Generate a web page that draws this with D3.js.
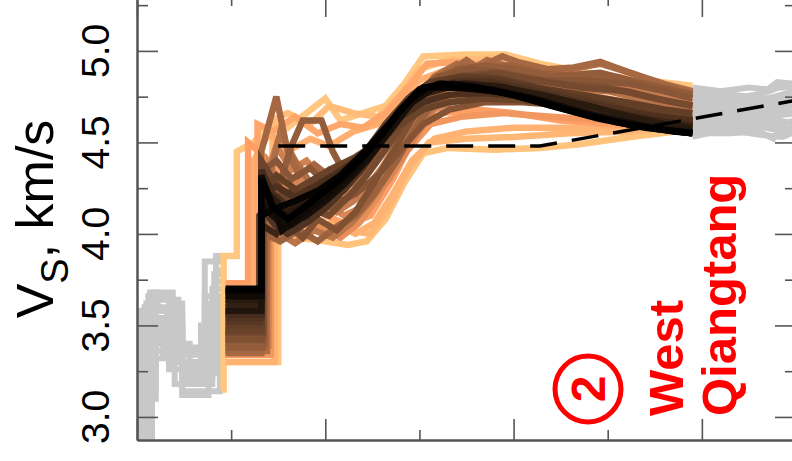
<!DOCTYPE html>
<html>
<head>
<meta charset="utf-8">
<script src="https://cdn.jsdelivr.net/npm/d3@7"></script>
<style>
  body { margin: 0; background: #ffffff; }
  svg { display: block; }
</style>
</head>
<body>
<svg id="chart" width="792" height="461"></svg>
<script>
// ---- Shear-velocity profiles, West Qiangtang: [depth km, Vs km/s] ----

// Gray ensemble, upper crust (0-47 km)
const crustG1  = [[0,2.88],[4,2.88],[4,3.60],[24,3.60],[24,3.30],[38,3.30],[38,3.62],[47,3.62]];
const crustG2  = [[0,2.95],[6,2.95],[6,3.66],[18,3.66],[18,3.55],[24,3.55],[24,3.18],[40,3.18],[40,3.70],[47,3.70]];
const crustG3  = [[0,3.02],[3,3.02],[3,3.52],[12,3.52],[12,3.42],[24,3.42],[24,3.34],[36,3.34],[36,3.85],[47,3.85]];
const crustG4  = [[0,2.90],[5,2.90],[5,3.10],[10,3.10],[10,3.45],[24,3.45],[24,3.14],[44,3.14],[44,3.55],[47,3.55]];
const crustG5  = [[0,3.05],[7,3.05],[7,3.68],[11,3.68],[11,3.58],[20,3.58],[20,3.40],[28,3.40],[28,3.25],[42,3.25],[42,3.80],[47,3.80]];
const crustG6  = [[0,2.92],[4,2.92],[4,3.40],[24,3.40],[24,3.36],[36,3.36],[36,3.60],[42,3.60],[42,3.88],[47,3.88]];
const crustG7  = [[0,2.98],[5,2.98],[5,3.62],[9,3.62],[9,3.68],[19,3.68],[19,3.50],[24,3.50],[24,3.22],[40,3.22],[40,3.48],[47,3.48]];
const crustG8  = [[0,2.86],[8,2.86],[8,3.15],[10,3.15],[10,3.52],[24,3.52],[24,3.30],[45,3.30],[45,3.65],[47,3.65]];
const crustG9  = [[0,3.08],[2,3.08],[2,3.58],[16,3.58],[16,3.36],[24,3.36],[24,3.28],[38,3.28],[38,3.42],[47,3.42]];
const crustG10 = [[0,2.93],[3,2.93],[3,3.32],[14,3.32],[14,3.50],[24,3.50],[24,3.26],[40,3.26],[40,3.56],[47,3.56]];
const crustG11 = [[0,3.00],[5,3.00],[5,3.20],[9,3.20],[9,3.48],[17,3.48],[17,3.62],[24,3.62],[24,3.20],[36,3.20],[36,3.66],[47,3.66]];
const crustG12 = [[0,2.90],[4,2.90],[4,3.48],[24,3.48],[24,3.38],[42,3.38],[42,3.74],[47,3.74]];
const crustG13 = [[0,3.06],[6,3.06],[6,3.56],[10,3.56],[10,3.36],[24,3.36],[24,3.12],[38,3.12],[38,3.52],[47,3.52]];
const crustG14 = [[0,2.96],[5,2.96],[5,3.44],[17,3.44],[17,3.26],[24,3.26],[24,3.24],[44,3.24],[44,3.60],[47,3.60]];
const crustG15 = [[0,2.88],[7,2.88],[7,3.64],[22,3.64],[22,3.30],[36,3.30],[36,3.45],[47,3.45]];
const crustG16 = [[0,3.04],[4,3.04],[4,3.54],[20,3.54],[20,3.18],[34,3.18],[34,3.50],[41,3.50],[41,3.78],[47,3.78]];

// Gray ensemble, deep mantle (295-350 km)
const deepG1  = [[295,4.80],[310,4.78],[325,4.80],[335,4.79],[340,4.83],[350,4.82]];
const deepG2  = [[295,4.55],[315,4.55],[330,4.56],[338,4.52],[342,4.58],[350,4.57]];
const deepG3  = [[295,4.70],[320,4.72],[340,4.70],[350,4.73]];
const deepG4  = [[295,4.62],[320,4.64],[340,4.60],[350,4.62]];
const deepG5  = [[295,4.75],[315,4.76],[335,4.74],[350,4.78]];
const deepG6  = [[295,4.58],[320,4.58],[340,4.60],[350,4.55]];
const deepG7  = [[295,4.66],[320,4.68],[340,4.66],[350,4.68]];
const deepG8  = [[295,4.78],[318,4.74],[333,4.77],[341,4.80],[350,4.80]];
const deepG9  = [[295,4.53],[312,4.57],[332,4.54],[343,4.53],[350,4.56]];
const deepG10 = [[295,4.60],[318,4.61],[336,4.63],[350,4.60]];
const deepG11 = [[295,4.64],[316,4.66],[334,4.64],[350,4.66]];
const deepG12 = [[295,4.68],[318,4.70],[338,4.68],[350,4.71]];
const deepG13 = [[295,4.72],[320,4.74],[338,4.72],[350,4.75]];
const deepG14 = [[295,4.57],[322,4.60],[339,4.57],[344,4.54],[350,4.59]];

// Coloured ensemble (lower crust to 295 km)
const prof01 = [[45,3.15],[46,3.15],[46,3.88],[53,3.88],[53,4.45],[62,4.50],[72,4.62],[80,4.58],[90,4.66],[100,4.74],[108,4.62],[120,4.66],[132,4.70],[142,4.82],[152,4.97],[175,4.98],[196,4.98],[214,4.93],[240,4.88],[262,4.85],[295,4.81]];
const prof02 = [[47,3.30],[75,3.30],[75,4.05],[85,3.98],[100,3.96],[112,3.94],[122,3.96],[132,4.08],[142,4.28],[152,4.44],[165,4.47],[190,4.46],[214,4.47],[235,4.49],[262,4.53],[295,4.57]];
const prof03 = [[47,3.50],[72,3.50],[72,4.62],[80,4.66],[92,4.60],[102,4.70],[115,4.66],[128,4.64],[140,4.76],[150,4.90],[165,4.95],[190,4.96],[214,4.88],[235,4.78],[262,4.68],[295,4.62]];
const prof04 = [[47,3.38],[70,3.38],[70,4.20],[80,4.32],[92,4.28],[100,4.12],[112,4.02],[124,4.00],[134,4.15],[144,4.35],[155,4.50],[175,4.52],[200,4.53],[230,4.55],[262,4.56],[295,4.60]];
const prof05 = [[47,3.58],[62,3.58],[62,4.40],[70,4.55],[80,4.45],[92,4.52],[102,4.48],[115,4.56],[128,4.60],[140,4.70],[150,4.84],[165,4.90],[190,4.88],[214,4.80],[240,4.68],[270,4.60],[295,4.58]];
const prof06 = [[47,3.73],[59,3.73],[59,4.50],[68,4.42],[78,4.30],[88,4.22],[100,4.10],[112,4.05],[124,4.10],[136,4.30],[148,4.55],[162,4.66],[180,4.68],[200,4.66],[225,4.62],[250,4.60],[295,4.58]];
const prof07 = [[47,3.36],[69,3.36],[69,4.00],[78,4.10],[86,3.98],[96,4.05],[108,3.98],[118,4.06],[128,4.20],[140,4.45],[152,4.65],[168,4.76],[190,4.78],[214,4.75],[240,4.72],[270,4.66],[295,4.62]];
const prof08 = [[47,3.40],[68,3.40],[68,4.30],[74,4.48],[82,4.35],[90,4.40],[100,4.28],[112,4.22],[124,4.28],[136,4.42],[148,4.62],[162,4.78],[178,4.84],[200,4.84],[225,4.82],[250,4.80],[275,4.74],[295,4.70]];
const prof09 = [[47,3.44],[67,3.44],[67,4.10],[76,4.00],[84,3.95],[94,4.02],[104,3.98],[114,4.06],[124,4.18],[134,4.34],[146,4.56],[160,4.72],[178,4.80],[200,4.82],[225,4.80],[250,4.78],[275,4.72],[295,4.68]];
const prof10 = [[47,3.35],[66,3.35],[66,4.45],[74,4.75],[80,4.45],[86,4.32],[94,4.38],[104,4.30],[114,4.36],[124,4.46],[134,4.58],[146,4.74],[160,4.85],[175,4.95],[182,4.90],[188,4.94],[194,4.97],[202,4.94],[218,4.90],[232,4.91],[246,4.94],[262,4.88],[278,4.82],[295,4.77]];
const prof11 = [[47,3.38],[67,3.38],[67,4.20],[76,4.28],[82,4.48],[88,4.62],[98,4.62],[104,4.45],[112,4.30],[122,4.35],[132,4.50],[144,4.68],[156,4.82],[170,4.90],[185,4.92],[200,4.90],[220,4.86],[246,4.88],[270,4.82],[295,4.76]];
const prof12 = [[47,3.42],[66,3.42],[66,4.15],[72,4.25],[80,4.05],[88,3.98],[96,4.08],[106,4.02],[116,4.12],[126,4.28],[136,4.45],[148,4.66],[162,4.80],[180,4.87],[200,4.86],[225,4.82],[250,4.80],[275,4.74],[295,4.70]];
const prof13 = [[47,3.47],[66,3.47],[66,4.40],[72,4.30],[80,4.20],[90,4.25],[100,4.20],[110,4.28],[120,4.40],[130,4.54],[140,4.66],[152,4.78],[166,4.84],[185,4.86],[205,4.82],[230,4.76],[255,4.72],[280,4.66],[295,4.63]];
const prof14 = [[47,3.52],[65,3.52],[65,4.10],[72,4.18],[80,4.12],[90,4.08],[100,4.16],[110,4.26],[120,4.38],[130,4.52],[142,4.68],[155,4.80],[170,4.84],[190,4.84],[210,4.80],[235,4.74],[260,4.68],[280,4.64],[295,4.62]];
const prof15 = [[47,3.56],[66,3.56],[66,4.35],[72,4.22],[80,4.15],[90,4.20],[100,4.28],[112,4.36],[124,4.48],[136,4.62],[148,4.76],[160,4.82],[180,4.82],[200,4.78],[225,4.72],[250,4.66],[275,4.62],[295,4.60]];
const prof16 = [[47,3.62],[66,3.62],[66,4.20],[74,4.08],[82,4.05],[92,4.12],[102,4.22],[114,4.34],[126,4.48],[138,4.63],[150,4.76],[165,4.80],[185,4.79],[205,4.75],[230,4.68],[255,4.62],[280,4.58],[295,4.57]];
const prof17 = [[47,3.58],[66,3.58],[66,4.28],[72,4.15],[80,4.10],[90,4.16],[100,4.24],[112,4.34],[124,4.47],[136,4.62],[148,4.76],[160,4.82],[178,4.81],[200,4.77],[225,4.70],[250,4.63],[275,4.58],[295,4.56]];
const prof18 = [[47,3.66],[66,3.66],[66,4.32],[71,4.18],[77,4.02],[84,4.08],[94,4.16],[104,4.24],[116,4.36],[128,4.52],[140,4.68],[152,4.80],[168,4.82],[188,4.79],[210,4.73],[235,4.66],[260,4.60],[280,4.57],[295,4.55]];
const prof19 = [[47,3.69],[66,3.69],[66,4.10],[74,4.14],[84,4.18],[97,4.24],[108,4.32],[120,4.44],[132,4.58],[144,4.72],[154,4.80],[170,4.80],[190,4.78],[210,4.74],[232,4.67],[255,4.61],[278,4.57],[295,4.55]];
const prof20 = [[47,3.70],[66,3.70],[66,4.30],[72,4.15],[80,4.08],[88,4.14],[98,4.22],[108,4.30],[120,4.42],[130,4.54],[140,4.68],[150,4.79],[162,4.82],[180,4.80],[200,4.76],[220,4.70],[245,4.63],[270,4.58],[295,4.55]];
const prof21 = [[47,3.30],[73,3.30],[73,4.00],[82,4.08],[92,4.02],[104,4.06],[116,4.00],[126,4.06],[136,4.22],[146,4.40],[158,4.52],[175,4.56],[200,4.58],[230,4.58],[262,4.58],[295,4.60]];
const prof22 = [[47,3.55],[64,3.55],[64,4.60],[72,4.56],[84,4.64],[96,4.55],[108,4.60],[120,4.58],[132,4.66],[144,4.80],[154,4.93],[170,4.94],[190,4.92],[214,4.84],[240,4.76],[270,4.70],[295,4.66]];
const prof23 = [[47,3.34],[71,3.34],[71,4.12],[80,4.20],[90,4.10],[100,4.00],[110,4.04],[120,4.14],[132,4.28],[144,4.46],[156,4.60],[172,4.64],[195,4.66],[220,4.64],[250,4.62],[295,4.60]];
const prof24 = [[47,3.39],[70,3.39],[70,4.38],[78,4.25],[88,4.30],[98,4.18],[110,4.10],[122,4.16],[134,4.30],[146,4.50],[158,4.68],[172,4.74],[195,4.74],[220,4.72],[250,4.68],[275,4.64],[295,4.62]];
const prof25 = [[47,3.45],[68,3.45],[68,4.05],[76,4.15],[86,4.10],[96,4.20],[106,4.12],[118,4.20],[130,4.36],[142,4.56],[154,4.74],[170,4.86],[188,4.88],[205,4.86],[230,4.84],[255,4.82],[280,4.76],[295,4.72]];
const prof26 = [[47,3.36],[69,3.36],[69,4.25],[76,4.55],[84,4.40],[92,4.28],[102,4.35],[112,4.26],[122,4.34],[134,4.50],[146,4.70],[158,4.86],[170,4.93],[178,4.90],[186,4.95],[196,4.92],[210,4.90],[230,4.90],[246,4.93],[262,4.88],[280,4.82],[295,4.78]];
const prof27 = [[47,3.40],[68,3.40],[68,4.00],[76,3.96],[86,4.02],[96,3.96],[106,4.04],[116,4.10],[126,4.22],[138,4.40],[150,4.62],[164,4.80],[180,4.90],[198,4.92],[215,4.88],[235,4.86],[258,4.84],[280,4.80],[295,4.76]];
const prof28 = [[47,3.43],[67,3.43],[67,4.35],[74,4.40],[82,4.30],[92,4.36],[102,4.26],[112,4.32],[122,4.44],[134,4.60],[146,4.76],[160,4.86],[176,4.90],[195,4.88],[215,4.84],[240,4.84],[262,4.82],[280,4.78],[295,4.74]];
const prof29 = [[47,3.46],[67,3.46],[67,4.08],[74,4.12],[82,4.22],[92,4.14],[102,4.10],[112,4.20],[122,4.32],[132,4.46],[144,4.64],[156,4.78],[172,4.86],[192,4.88],[212,4.84],[236,4.80],[260,4.78],[280,4.73],[295,4.70]];
const prof30 = [[47,3.50],[66,3.50],[66,4.22],[74,4.32],[82,4.26],[92,4.18],[102,4.26],[112,4.34],[122,4.46],[132,4.60],[144,4.74],[156,4.83],[172,4.86],[192,4.85],[212,4.80],[236,4.76],[260,4.72],[280,4.68],[295,4.66]];
const prof31 = [[47,3.54],[66,3.54],[66,4.15],[73,4.05],[80,4.00],[90,4.06],[100,4.14],[110,4.24],[120,4.36],[130,4.50],[142,4.66],[154,4.78],[168,4.83],[188,4.83],[208,4.79],[232,4.73],[256,4.68],[280,4.63],[295,4.60]];
const prof32 = [[47,3.60],[66,3.60],[66,4.05],[74,4.00],[82,4.10],[92,4.20],[102,4.26],[112,4.34],[122,4.44],[132,4.56],[144,4.70],[156,4.79],[172,4.82],[192,4.81],[212,4.76],[236,4.70],[260,4.65],[280,4.61],[295,4.59]];
const prof33 = [[47,3.64],[66,3.64],[66,4.25],[72,4.20],[80,4.12],[90,4.18],[100,4.22],[110,4.30],[122,4.42],[134,4.58],[146,4.74],[158,4.81],[175,4.82],[195,4.80],[215,4.76],[240,4.70],[262,4.64],[280,4.60],[295,4.58]];
const prof34 = [[47,3.68],[66,3.68],[66,4.18],[72,4.10],[80,4.04],[90,4.10],[100,4.18],[110,4.27],[122,4.40],[134,4.56],[146,4.72],[158,4.80],[176,4.80],[196,4.77],[218,4.72],[242,4.65],[265,4.60],[285,4.56],[295,4.55]];
const prof35 = [[47,3.44],[67,3.44],[67,4.28],[74,4.22],[84,4.14],[94,4.10],[104,4.16],[116,4.22],[128,4.32],[140,4.46],[152,4.60],[166,4.68],[185,4.72],[205,4.72],[230,4.70],[260,4.66],[295,4.62]];
const prof36 = [[47,3.48],[66,3.48],[66,4.12],[74,4.20],[84,4.24],[94,4.30],[104,4.36],[116,4.42],[128,4.50],[140,4.60],[152,4.68],[166,4.72],[185,4.74],[205,4.73],[230,4.70],[260,4.66],[295,4.62]];
const prof37 = [[47,3.57],[66,3.57],[66,4.22],[74,4.26],[84,4.20],[94,4.26],[104,4.32],[116,4.40],[128,4.52],[140,4.64],[152,4.72],[166,4.76],[185,4.77],[205,4.75],[230,4.71],[260,4.66],[295,4.62]];

const colouredProfiles = [prof01, prof02, prof03, prof04, prof05, prof06, prof07, prof08, prof09, prof10,
                          prof11, prof12, prof13, prof14, prof15, prof16, prof17, prof18, prof19, prof20,
                          prof21, prof22, prof23, prof24, prof25, prof26, prof27, prof28, prof29, prof30,
                          prof31, prof32, prof33, prof34, prof35, prof36, prof37];

// Normalised misfit of each coloured profile (1 = worst, 0 = best), same order
const misfit = [1.00, 0.98, 0.95, 0.92, 0.88, 0.80, 0.72, 0.65, 0.58, 0.52,
                0.46, 0.40, 0.34, 0.28, 0.22, 0.16, 0.10, 0.05, 0.02, 0.00,
                0.90, 0.84, 0.76, 0.68, 0.62, 0.55, 0.49, 0.43, 0.37, 0.31,
                0.25, 0.19, 0.13, 0.07, 0.42, 0.33, 0.24];

const grayProfiles = [crustG1, crustG2, crustG3, crustG4, crustG5, crustG6, crustG7, crustG8,
                      crustG9, crustG10, crustG11, crustG12, crustG13, crustG14, crustG15, crustG16,
                      deepG1, deepG2, deepG3, deepG4, deepG5, deepG6, deepG7, deepG8, deepG9,
                      deepG10, deepG11, deepG12, deepG13, deepG14];

// Reference 1-D model (dashed)
const refDepth = [75, 214, 350];
const refVs    = [4.48, 4.48, 4.73];

// Axis ticks
const vsMajorTicks = [3.0, 3.5, 4.0, 4.5, 5.0];
const vsMinorTicks = [3.25, 3.75, 4.25, 4.75, 5.25];
const depthMajorTicks = [0, 100, 200, 300];
const depthMinorTicks = [50, 150, 250, 350];

// ---- Drawing ----
const svg = d3.select("#chart");
const frame = { left: 137, right: 796, top: -4, bottom: 440 };

const x = d3.scaleLinear().domain([0, 350]).range([frame.left, frame.right]);
const y = d3.scaleLinear().domain([2.874, 5.30]).range([frame.bottom, frame.top]);

// copper colour map
const copper = m => d3.rgb(Math.min(255, 255 * 1.25 * m), 255 * 0.7812 * m, 255 * 0.4975 * m);

svg.append("defs").append("clipPath").attr("id", "plotClip")
  .append("rect")
  .attr("x", frame.left).attr("y", frame.top)
  .attr("width", frame.right - frame.left).attr("height", frame.bottom - frame.top);

const plot = svg.append("g").attr("clip-path", "url(#plotClip)");
const line = d3.line().x(d => x(d[0])).y(d => y(d[1]));

plot.selectAll("path.gray").data(grayProfiles).join("path")
  .attr("class", "gray")
  .attr("d", line)
  .attr("fill", "none")
  .attr("stroke", "#c8c8c8")
  .attr("stroke-width", 6)
  .attr("stroke-linejoin", "miter");

// worst-fitting profiles first so the best fits sit on top
const drawOrder = d3.range(colouredProfiles.length).sort((a, b) => misfit[b] - misfit[a]);
plot.selectAll("path.model").data(drawOrder).join("path")
  .attr("class", "model")
  .attr("d", i => line(colouredProfiles[i]))
  .attr("fill", "none")
  .attr("stroke", i => copper(misfit[i]))
  .attr("stroke-width", 6.5)
  .attr("stroke-linejoin", "miter")
  .attr("stroke-miterlimit", 4);

plot.append("path")
  .datum(refDepth.map((d, i) => [d, refVs[i]]))
  .attr("d", line)
  .attr("fill", "none")
  .attr("stroke", "#000")
  .attr("stroke-width", 3.5)
  .attr("stroke-dasharray", "27,15");

// ---- Axes (inward ticks) ----
const axisColor = "#555";
function styleAxis(g) {
  g.select(".domain").attr("stroke", axisColor).attr("stroke-width", 2);
  g.selectAll(".tick line").attr("stroke", axisColor).attr("stroke-width", 1.6);
  g.selectAll(".tick text").remove();
}

svg.append("g").attr("transform", `translate(0,${frame.bottom})`)
  .call(d3.axisBottom(x).tickValues(depthMajorTicks).tickSizeInner(-21).tickSizeOuter(0)).call(styleAxis);
svg.append("g").attr("transform", `translate(0,${frame.bottom})`)
  .call(d3.axisBottom(x).tickValues(depthMinorTicks).tickSizeInner(-10).tickSizeOuter(0)).call(styleAxis);
svg.append("g").attr("transform", `translate(0,${frame.top})`)
  .call(d3.axisTop(x).tickValues(depthMajorTicks).tickSizeInner(-21).tickSizeOuter(0)).call(styleAxis);
svg.append("g").attr("transform", `translate(0,${frame.top})`)
  .call(d3.axisTop(x).tickValues(depthMinorTicks).tickSizeInner(-10).tickSizeOuter(0)).call(styleAxis);

svg.append("g").attr("transform", `translate(${frame.left},0)`)
  .call(d3.axisLeft(y).tickValues(vsMajorTicks).tickSizeInner(-21).tickSizeOuter(0)).call(styleAxis);
svg.append("g").attr("transform", `translate(${frame.left},0)`)
  .call(d3.axisLeft(y).tickValues(vsMinorTicks).tickSizeInner(-11).tickSizeOuter(0)).call(styleAxis);
svg.append("g").attr("transform", `translate(${frame.right},0)`)
  .call(d3.axisRight(y).tickValues(vsMajorTicks).tickSizeInner(-21).tickSizeOuter(0)).call(styleAxis);
svg.append("g").attr("transform", `translate(${frame.right},0)`)
  .call(d3.axisRight(y).tickValues(vsMinorTicks).tickSizeInner(-11).tickSizeOuter(0)).call(styleAxis);

// Rotated Vs tick labels
const font = "'Liberation Sans', Arial, Helvetica, sans-serif";
svg.append("g").selectAll("text").data(vsMajorTicks).join("text")
  .attr("transform", d => `translate(109,${y(d)}) rotate(-90)`)
  .attr("text-anchor", "middle")
  .attr("font-family", font)
  .attr("font-size", 39)
  .attr("fill", "#000")
  .text(d => d3.format(".1f")(d));

// Axis title
const title = svg.append("text")
  .attr("transform", "translate(53,219) rotate(-90)")
  .attr("text-anchor", "middle")
  .attr("font-family", font)
  .attr("font-size", 52)
  .attr("fill", "#000");
title.append("tspan").text("V");
title.append("tspan").attr("font-size", 38).attr("dy", 15).text("S");
title.append("tspan").attr("dy", -15).text(", km/s");

// Region label
const red = "#ff0000";
svg.append("circle")
  .attr("cx", 588).attr("cy", 389).attr("r", 33)
  .attr("fill", "none").attr("stroke", red).attr("stroke-width", 5);
svg.append("text")
  .attr("transform", "translate(605,389) rotate(-90)")
  .attr("text-anchor", "middle")
  .attr("font-family", font).attr("font-weight", "bold").attr("font-size", 48)
  .attr("fill", red).text("2");
svg.append("text")
  .attr("transform", "translate(683,416) rotate(-90)")
  .attr("font-family", font).attr("font-weight", "bold").attr("font-size", 49)
  .attr("fill", red).text("West");
svg.append("text")
  .attr("transform", "translate(736,416) rotate(-90)")
  .attr("font-family", font).attr("font-weight", "bold").attr("font-size", 49)
  .attr("fill", red).text("Qiangtang");
</script>
</body>
</html>
